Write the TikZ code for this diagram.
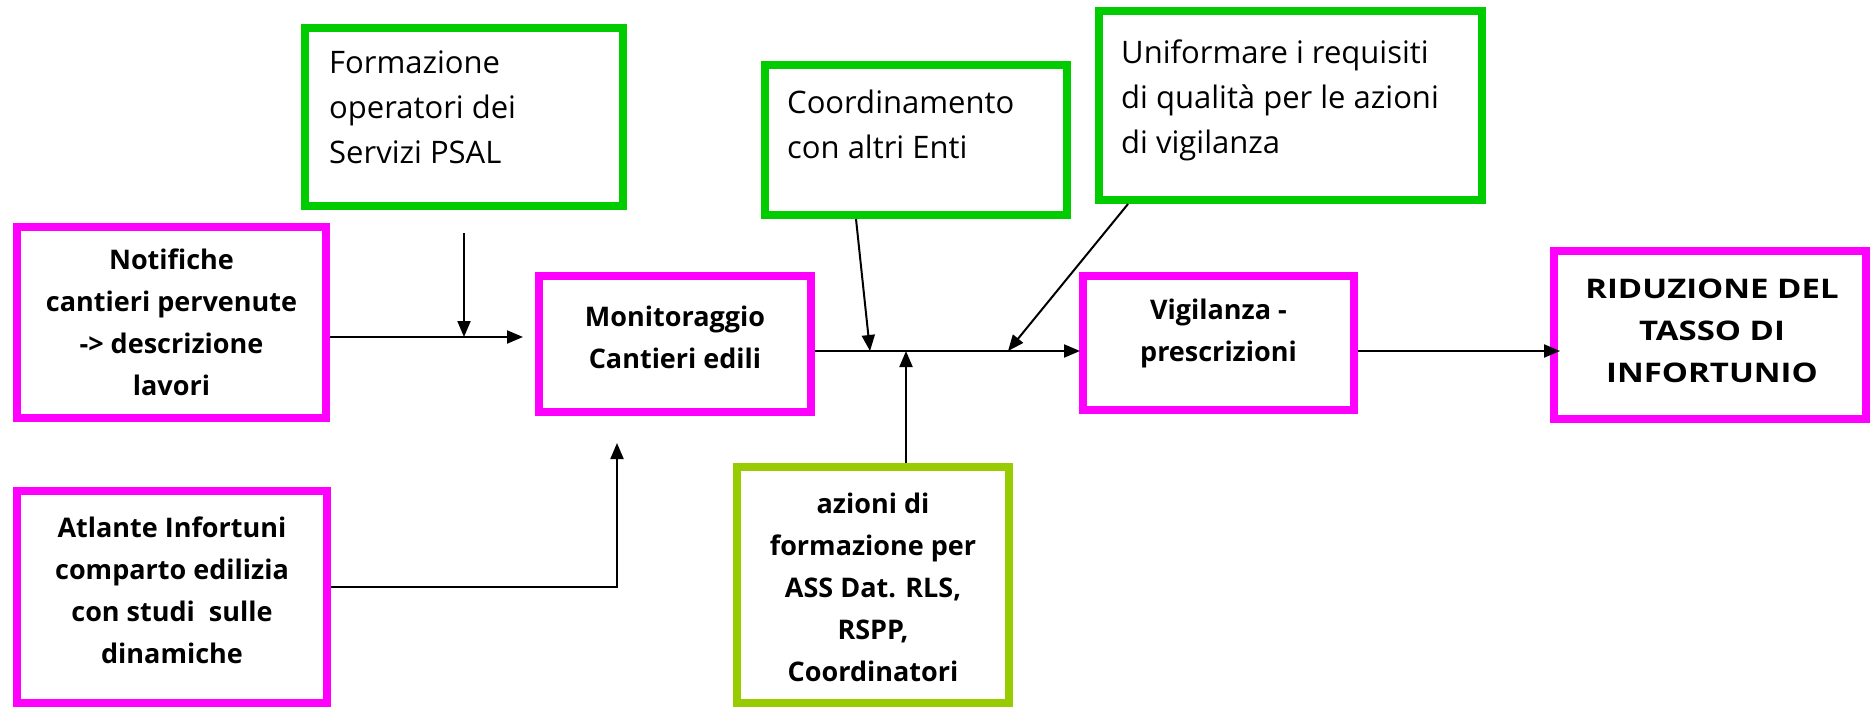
\documentclass[tikz,border=0pt]{standalone}
\usepackage{fontspec}
\setmainfont{Open Sans}
\usetikzlibrary{arrows.meta}
\definecolor{mag}{HTML}{FF00FF}
\definecolor{grn}{HTML}{00CC00}
\definecolor{lgrn}{HTML}{99CC00}
\begin{document}
\begin{tikzpicture}[x=1pt,y=-1pt,
  mbox/.style={draw=mag, line width=8pt, inner sep=0pt},
  mtext/.style={inner sep=0pt, align=center, font=\fontsize{27}{42}\selectfont\bfseries},
  gbox/.style={draw=grn, line width=8pt, inner sep=0pt},
  gtext/.style={anchor=north west, inner sep=0pt, align=left, font=\fontsize{31}{45}\selectfont},
  conn/.style={line width=2pt, -{Triangle[length=16pt,width=13pt]}}]
\useasboundingbox (0,0) rectangle (1870,707);

% magenta boxes
\node[mbox, minimum width=309pt, minimum height=191pt] (notif) at (171.5,322.5) {};
\node[mtext] (notift) at (notif.center) {Notifiche\\cantieri pervenute\\-> descrizione\\lavori};
\node[mbox, minimum width=310pt, minimum height=212pt] (atl) at (172,597) {};
\node[mtext] (atlt) at (172,590) {Atlante Infortuni\\comparto edilizia\\con studi\ \ sulle\\dinamiche};
\node[mbox, minimum width=272pt, minimum height=136pt] (mon) at (675,344) {};
\node[mtext] (mont) at (675,337) {Monitoraggio\\Cantieri edili};
\node[mbox, minimum width=271pt, minimum height=134pt] (vig) at (1218.5,343) {};
\node[mtext] (vigt) at (1218.5,333.5) {Vigilanza -\\prescrizioni};
\node[mbox, minimum width=312pt, minimum height=168pt] (rid) at (1710,335) {};
\node[mtext] (ridt) at (1712,331) {\scalebox{1.22}[1]{RIDUZIONE DEL}\\\scalebox{1.22}[1]{TASSO DI}\\\scalebox{1.22}[1]{INFORTUNIO}};
\node[mbox, draw=lgrn, minimum width=272pt, minimum height=236pt] (azi) at (873,585) {};
\node[mtext] (azit) at (873,587) {azioni di\\formazione per\\ASS Dat. RLS,\\RSPP,\\Coordinatori};

% green boxes
\node[gbox, minimum width=318pt, minimum height=178pt] (form) at (464,117) {};
\node[gtext] (formt) at (329,51) {Formazione\\operatori dei\\Servizi PSAL};
\node[gbox, minimum width=302pt, minimum height=150pt] (coord) at (916,140) {};
\node[gtext] (coordt) at (787,90) {Coordinamento\\con altri Enti};
\node[gbox, minimum width=383pt, minimum height=189pt] (unif) at (1290.5,105.5) {};
\node[gtext] (unift) at (1121,40) {Uniformare i requisiti\\di qualità per le azioni\\di vigilanza};

% connector coordinates
\coordinate (t1) at (523,337);
\coordinate (f0) at (464,233);
\coordinate (f1) at (464,337);
\coordinate (a1) at (617,587);
\coordinate (a2) at (617,443);
\coordinate (m1) at (1080,351);
\coordinate (c0) at (856,219);
\coordinate (c1) at (870,351);
\coordinate (u0) at (1128,204);
\coordinate (u1) at (1008,351);
\coordinate (z1) at (906,351);
\coordinate (r1) at (1560,351);

% connectors
\draw[conn] (notif.east |- t1) -- (t1);
\draw[conn] (f0) -- (f1);
\draw[conn] (atl.east |- a1) -- (a1) -- (a2);
\draw[conn] (mon.east |- m1) -- (m1);
\draw[conn] (c0) -- (c1);
\draw[conn] (u0) -- (u1);
\draw[conn] (azi.north -| z1) -- (z1);
\draw[conn] (vig.east |- r1) -- (r1);
\end{tikzpicture}
\end{document}
